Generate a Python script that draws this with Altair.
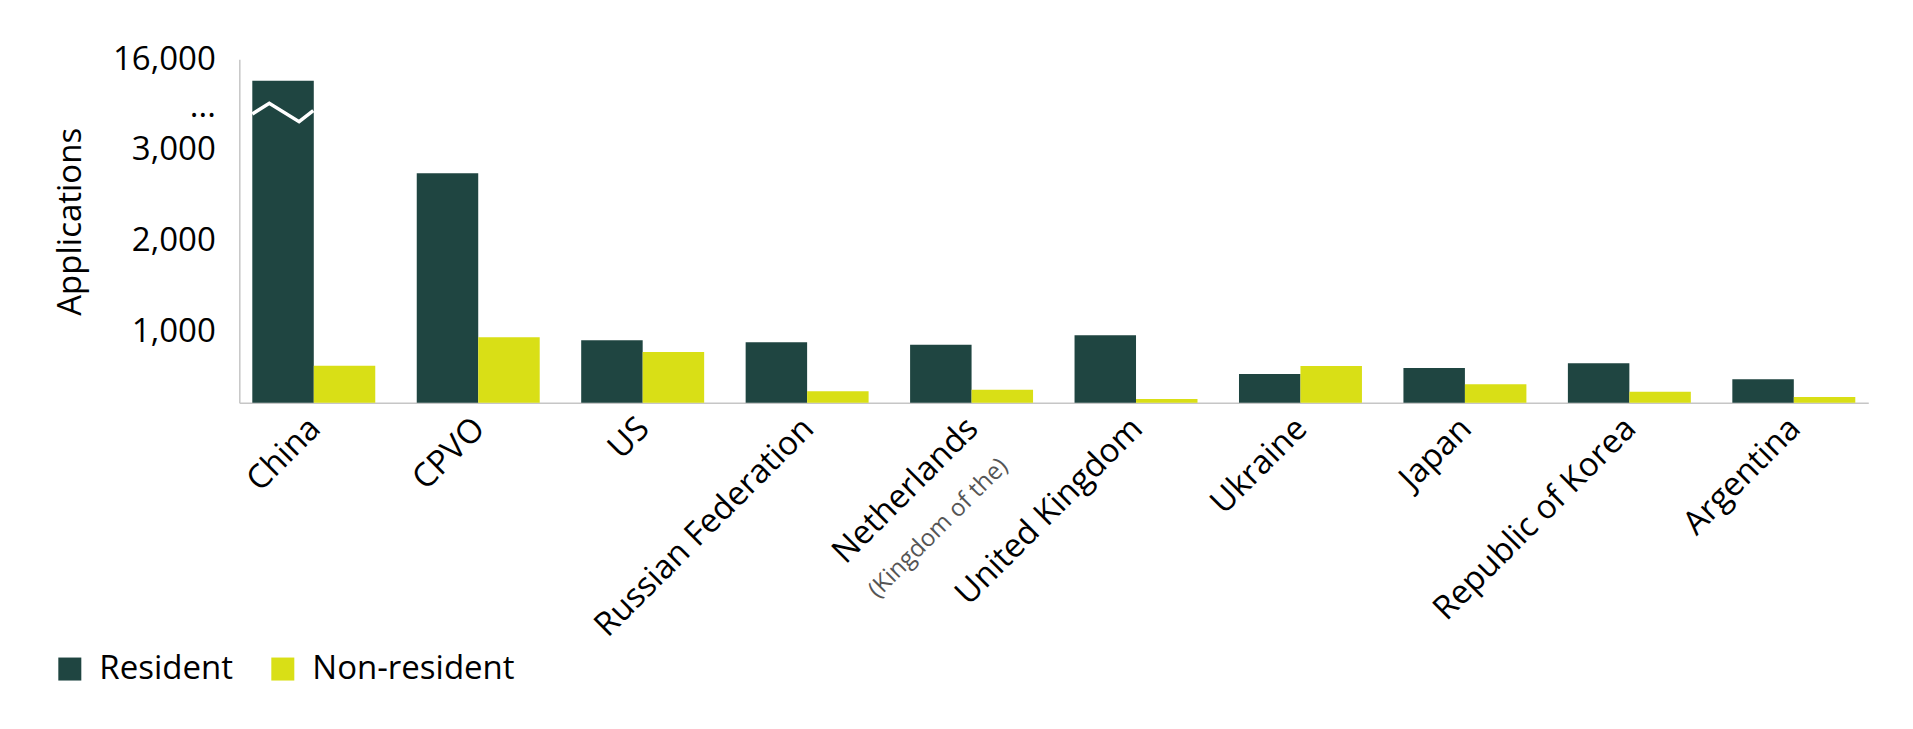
import altair as alt
import pandas as pd

countries = ["China", "CPVO", "US", "Russian Federation", "Netherlands",
             "United Kingdom", "Ukraine", "Japan", "Republic of Korea", "Argentina"]
resident = [11070, 2743, 905, 883, 856, 960, 534, 600, 652, 475]
non_resident = [625, 938, 776, 343, 361, 259, 622, 420, 339, 281]
series = ["Resident", "Non-resident"]
colors = ["#1f4541", "#d9df16"]

sub_country = "Netherlands"
sub_text = "(Kingdom of the)"

# broken axis: lower segment up to the break, compressed upper segment
axis_base = 218
axis_break = 3396
axis_top = 16000
dots_tick = 5009
tick_values = [1000, 2000, 3000, dots_tick, 16000]

# zig-zag break marker on the China bar (x as fraction of plot width)
zig_x = [0.0080, 0.0184, 0.0367, 0.0454]
zig_y = [3396, 5862, 3311, 4156]

W = 1629
H = 343.4

rows = []
for c, r, n in zip(countries, resident, non_resident):
    rows.append({"Country": c, "Type": "Resident", "Applications": r})
    rows.append({"Country": c, "Type": "Non-resident", "Applications": n})
df = pd.DataFrame(rows)

zig_df = pd.DataFrame({"zx": zig_x, "zy": zig_y, "i": list(range(len(zig_x)))})

yscale = alt.Scale(domain=[axis_base, axis_break, axis_top],
                   range=[H, H - (axis_break - axis_base) * 0.09085, 0],
                   zero=False, nice=False)

FONT = "Open Sans"
xscale = alt.Scale(paddingInner=0.2523, paddingOuter=0.079)

bars = alt.Chart(df).mark_bar().encode(
    x=alt.X("Country:N", sort=countries, scale=xscale,
            axis=alt.Axis(title=None, orient="bottom", labelAngle=-45, labelAlign="right",
                          labelBaseline="top", labelPadding=9, labelOffset=-10,
                          ticks=False, tickSize=0, labelFontSize=33, labelFont=FONT,
                          labelColor="#000000", domainColor="#c6c6c6",
                          domainWidth=1.5, labelOverlap=False, labelLimit=0)),
    xOffset=alt.XOffset("Type:N", sort=series,
                        scale=alt.Scale(domain=series, paddingInner=0, paddingOuter=0)),
    y=alt.Y("Applications:Q", scale=yscale,
            axis=alt.Axis(title="Applications", values=tick_values,
                          labelExpr=f"datum.value == {dots_tick} ? '...' : format(datum.value, ',')",
                          ticks=False, tickSize=0, grid=False, labelPadding=24,
                          labelFontSize=33, labelFont=FONT, labelColor="#000000",
                          labelOverlap=False, domainColor="#c6c6c6", domainWidth=1.5,
                          titleFont=FONT, titleFontSize=33, titleFontWeight="normal",
                          titleColor="#000000", titleAngle=270, titleX=-152, titleY=162,
                          titleAlign="center", titleBaseline="bottom")),
    y2=alt.datum(axis_base),
    color=alt.Color("Type:N", sort=series,
                    scale=alt.Scale(domain=series, range=colors),
                    legend=alt.Legend(title=None, orient="none", legendX=-186, legendY=593,
                                      direction="horizontal", symbolType="square",
                                      symbolSize=529, symbolStrokeWidth=0,
                                      labelFontSize=33, labelFont=FONT, labelColor="#000000",
                                      labelOffset=13, columnPadding=33, padding=0,
                                      labelLimit=0)),
)

# second (invisible-mark) layer that only carries the small sub-label axis
sub_axis = alt.Chart(df).mark_bar(opacity=0).encode(
    x=alt.X("Country:N", sort=countries, scale=xscale,
            axis=alt.Axis(title=None, orient="bottom", domain=False, ticks=False,
                          tickSize=0, labelAngle=-45, labelAlign="right",
                          labelBaseline="top", labelPadding=51, labelOffset=24,
                          labelFontSize=24, labelFont=FONT, labelColor="#555555",
                          labelOverlap=False, labelLimit=0,
                          labelExpr=f"datum.value == '{sub_country}' ? '{sub_text}' : ''")),
    y=alt.Y("Applications:Q", scale=yscale),
    y2=alt.datum(axis_base),
)

inner = alt.layer(bars, sub_axis).resolve_axis(x="independent")

zig = alt.Chart(zig_df).mark_line(color="white", strokeWidth=3.5,
                                  strokeJoin="miter").encode(
    x=alt.X("zx:Q", scale=alt.Scale(domain=[0, 1], nice=False, zero=False), axis=None),
    y=alt.Y("zy:Q"),
    order="i:Q",
)

chart = alt.layer(inner, zig).resolve_scale(x="independent").properties(
    width=W, height=H,
    autosize=alt.AutoSizeParams(type="none"),
    padding={"left": 231.3, "top": 51.3, "right": 20, "bottom": 300},
    background="white",
).configure_view(stroke=None)

chart.save("out.html", embed_options={"renderer": "svg", "actions": False})
